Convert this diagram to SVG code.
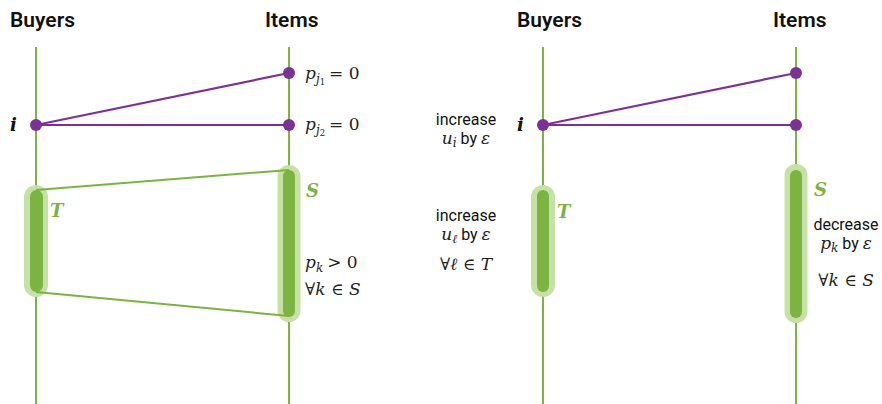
<svg xmlns="http://www.w3.org/2000/svg" width="882" height="404" viewBox="0 0 882 404">
<style>
.hdr{font-family:Roboto,"Liberation Sans",sans-serif;font-size:21px;font-weight:600;fill:#111}
.axis{stroke:#7cb342;stroke-width:2;fill:none}
.edgeP{stroke:#7b3294;stroke-width:2.2;fill:none}
.edgeG{stroke:#7cb342;stroke-width:2;fill:none}
.dot{fill:#7b3294}
.halo{fill:#c5e1a5}
.core{fill:#7cb342}
.m{font-family:"DejaVu Serif",serif;font-size:17px;fill:#222}
.mi{font-style:italic}
.sub{font-size:12px}
.sub2{font-size:8.5px}
.lbl{font-family:"DejaVu Serif",serif;font-style:italic;font-weight:bold;font-size:18px}
.txt{font-family:Roboto,"Liberation Sans",sans-serif;font-size:16px;fill:#111}
</style>
<g id="headers">
<text class="hdr" x="10" y="27">Buyers</text>
<text class="hdr" x="265" y="27">Items</text>
<text class="hdr" x="517" y="27">Buyers</text>
<text class="hdr" x="773" y="27">Items</text>
</g>
<g id="axes">
<line class="axis" x1="36" y1="47" x2="36" y2="404"/>
<line class="axis" x1="289" y1="47" x2="289" y2="404"/>
<line class="axis" x1="543" y1="47" x2="543" y2="404"/>
<line class="axis" x1="796" y1="47" x2="796" y2="404"/>
</g>
<g id="setT-left">
<rect class="halo" x="24" y="185" width="24" height="112" rx="12"/>
<rect class="core" x="30" y="190" width="13" height="102" rx="6.5"/>
<text class="lbl" x="50" y="217" fill="#7cb342">T</text>
</g>
<g id="setS-left">
<rect class="halo" x="277.5" y="165" width="23" height="157" rx="11.5"/>
<rect class="core" x="283" y="170" width="12" height="147" rx="6"/>
<text class="lbl" x="306" y="197" fill="#7cb342">S</text>
</g>
<g id="setT-right">
<rect class="halo" x="531" y="185" width="24" height="112" rx="12"/>
<rect class="core" x="537" y="190" width="12" height="102" rx="6"/>
<text class="lbl" x="557" y="218" fill="#7cb342">T</text>
</g>
<g id="setS-right">
<rect class="halo" x="784.5" y="164" width="23" height="159" rx="11.5"/>
<rect class="core" x="790" y="170" width="12" height="148" rx="6"/>
<text class="lbl" x="814" y="196" fill="#7cb342">S</text>
</g>
<g id="connectors">
<line class="edgeG" x1="36" y1="190" x2="289" y2="170"/>
<line class="edgeG" x1="36" y1="292" x2="289" y2="316"/>
<line class="edgeP" x1="36" y1="125" x2="289" y2="73"/>
<line class="edgeP" x1="36" y1="125" x2="289" y2="125"/>
<line class="edgeP" x1="543" y1="125" x2="796" y2="73"/>
<line class="edgeP" x1="543" y1="125" x2="796" y2="125"/>
</g>
<g id="buyer-i-left">
<circle class="dot" cx="36" cy="125" r="6"/>
<text class="lbl" x="10" y="131" fill="#111">i</text>
</g>
<g id="item-j1-left">
<circle class="dot" cx="289" cy="73" r="6"/>
<text class="m" x="305" y="79"><tspan class="mi">p</tspan><tspan class="mi sub" dy="4">j</tspan><tspan class="sub2" dy="2">1</tspan><tspan dy="-6" dx="4">= 0</tspan></text>
</g>
<g id="item-j2-left">
<circle class="dot" cx="289" cy="125" r="6"/>
<text class="m" x="305" y="130"><tspan class="mi">p</tspan><tspan class="mi sub" dy="4">j</tspan><tspan class="sub2" dy="2">2</tspan><tspan dy="-6" dx="4">= 0</tspan></text>
</g>
<g id="note-S-left">
<text class="m" x="305" y="268"><tspan class="mi">p</tspan><tspan class="mi sub" dy="4">k</tspan><tspan dy="-4" dx="4">&gt; 0</tspan></text>
<text class="m" x="305" y="295">∀<tspan class="mi">k</tspan> ∈ <tspan class="mi">S</tspan></text>
</g>
<g id="buyer-i-right">
<circle class="dot" cx="543" cy="125" r="6"/>
<text class="lbl" x="517" y="131" fill="#111">i</text>
</g>
<g id="item-j1-right">
<circle class="dot" cx="796" cy="73" r="6"/>
</g>
<g id="item-j2-right">
<circle class="dot" cx="796" cy="125" r="6"/>
</g>
<g id="note-i">
<text class="txt" x="466" y="125" text-anchor="middle">increase</text>
<text class="txt" x="466" y="144" text-anchor="middle"><tspan class="m mi">u</tspan><tspan class="m mi sub" dy="3">i</tspan><tspan dy="-3"> by </tspan><tspan class="m mi">ε</tspan></text>
</g>
<g id="note-T">
<text class="txt" x="466" y="221" text-anchor="middle">increase</text>
<text class="txt" x="466" y="240" text-anchor="middle"><tspan class="m mi">u</tspan><tspan class="m mi sub" dy="3">ℓ</tspan><tspan dy="-3"> by </tspan><tspan class="m mi">ε</tspan></text>
<text class="m" x="466" y="270" text-anchor="middle">∀<tspan class="mi">ℓ</tspan> ∈ <tspan class="mi">T</tspan></text>
</g>
<g id="note-S-right">
<text class="txt" x="846" y="230" text-anchor="middle">decrease</text>
<text class="txt" x="846" y="249" text-anchor="middle"><tspan class="m mi">p</tspan><tspan class="m mi sub" dy="3">k</tspan><tspan dy="-3"> by </tspan><tspan class="m mi">ε</tspan></text>
<text class="m" x="846" y="286" text-anchor="middle">∀<tspan class="mi">k</tspan> ∈ <tspan class="mi">S</tspan></text>
</g>
</svg>
